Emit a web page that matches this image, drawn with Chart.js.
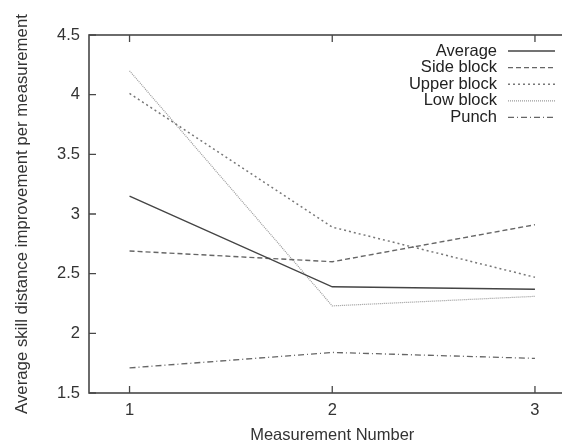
<!DOCTYPE html>
<html>
<head>
<meta charset="utf-8">
<script src="https://cdn.jsdelivr.net/npm/chart.js@4"></script>
<style>
  html, body { margin: 0; padding: 0; background: #fff; overflow: hidden; }
  #wrap { width: 580px; height: 442px; }
</style>
</head>
<body>
<div id="wrap"><canvas id="myChart" width="580" height="442"></canvas></div>
<script>
// values
const measurements = [1, 2, 3];
const seriesNames = ['Average', 'Side block', 'Upper block', 'Low block', 'Punch'];
const average = [3.15, 2.39, 2.37];
const sideBlock = [2.69, 2.60, 2.91];
const upperBlock = [4.01, 2.89, 2.47];
const lowBlock = [4.20, 2.23, 2.31];
const punch = [1.71, 1.84, 1.79];
const yTicks = [1.5, 2, 2.5, 3, 3.5, 4, 4.5];

const FONT = 'Liberation Sans, Arial, sans-serif';

function pts(vals) {
  return vals.map(function (v, i) { return { x: measurements[i], y: v }; });
}

// gnuplot-ish frame with inward ticks
const framePlugin = {
  id: 'frame',
  afterDatasetsDraw(chart) {
    const ctx = chart.ctx, a = chart.chartArea;
    const xs = chart.scales.x, ys = chart.scales.y;
    ctx.save();
    ctx.strokeStyle = '#484848';
    ctx.lineWidth = 1.6;
    ctx.strokeRect(a.left, a.top, a.right - a.left, a.bottom - a.top);
    ctx.lineWidth = 1.3;
    ctx.beginPath();
    measurements.forEach(function (m) {
      const px = xs.getPixelForValue(m);
      ctx.moveTo(px, a.bottom); ctx.lineTo(px, a.bottom - 7);
      ctx.moveTo(px, a.top); ctx.lineTo(px, a.top + 7);
    });
    yTicks.forEach(function (t) {
      const py = ys.getPixelForValue(t);
      ctx.moveTo(a.left, py); ctx.lineTo(a.left + 7, py);
      ctx.moveTo(a.right, py); ctx.lineTo(a.right - 7, py);
    });
    ctx.stroke();
    ctx.restore();
  }
};

// key in the top right: text right-aligned, line sample after it
const keyPlugin = {
  id: 'key',
  afterDatasetsDraw(chart) {
    const ctx = chart.ctx;
    ctx.save();
    ctx.font = '16.5px ' + FONT;
    ctx.textAlign = 'right';
    ctx.textBaseline = 'middle';
    chart.data.datasets.forEach(function (ds, i) {
      const y = 51 + i * 16.6;
      ctx.fillStyle = '#222';
      ctx.fillText(ds.label, 497, y);
      ctx.strokeStyle = ds.borderColor;
      ctx.lineWidth = ds.borderWidth;
      ctx.setLineDash(ds.borderDash || []);
      ctx.beginPath();
      ctx.moveTo(508, y);
      ctx.lineTo(555, y);
      ctx.stroke();
    });
    ctx.restore();
  }
};

const ctx = document.getElementById('myChart').getContext('2d');
const myChart = new Chart(ctx, {
  type: 'line',
  data: {
    datasets: [
      { label: seriesNames[0], data: pts(average), borderColor: '#444', borderWidth: 1.4, borderDash: [] },
      { label: seriesNames[1], data: pts(sideBlock), borderColor: '#666', borderWidth: 1.4, borderDash: [5, 3] },
      { label: seriesNames[2], data: pts(upperBlock), borderColor: '#777', borderWidth: 1.5, borderDash: [2, 3] },
      { label: seriesNames[3], data: pts(lowBlock), borderColor: '#9a9a9a', borderWidth: 1.2, borderDash: [1, 1] },
      { label: seriesNames[4], data: pts(punch), borderColor: '#666', borderWidth: 1.3, borderDash: [6, 3, 1, 3] }
    ]
  },
  options: {
    responsive: false,
    animation: false,
    devicePixelRatio: 1,
    elements: { point: { radius: 0 }, line: { tension: 0 } },
    layout: { padding: { top: 35, right: 4.5, left: 0, bottom: 0 } },
    plugins: { legend: { display: false }, tooltip: { enabled: false } },
    scales: {
      x: {
        type: 'linear',
        min: 0.8,
        max: 3.2,
        afterBuildTicks: function (s) { s.ticks = measurements.map(function (m) { return { value: m }; }); },
        afterFit: function (s) { s.height = 49; },
        grid: { display: false, drawTicks: false },
        border: { display: false },
        ticks: { color: '#333', font: { family: FONT, size: 16.5 }, padding: 8 },
        title: { display: true, text: 'Measurement Number', color: '#333', font: { family: FONT, size: 16.5 }, padding: { top: 0, bottom: -3 } }
      },
      y: {
        min: 1.5,
        max: 4.5,
        afterBuildTicks: function (s) { s.ticks = yTicks.map(function (t) { return { value: t }; }); },
        afterFit: function (s) { s.width = 89; },
        grid: { display: false, drawTicks: false },
        border: { display: false },
        ticks: {
          color: '#333', font: { family: FONT, size: 16.5 }, padding: 9,
          callback: function (v) { return String(v); }
        },
        title: { display: true, text: 'Average skill distance improvement per measurement', color: '#333', font: { family: FONT, size: 16.8 }, padding: { top: 12 } }
      }
    }
  },
  plugins: [framePlugin, keyPlugin]
});
</script>
</body>
</html>
